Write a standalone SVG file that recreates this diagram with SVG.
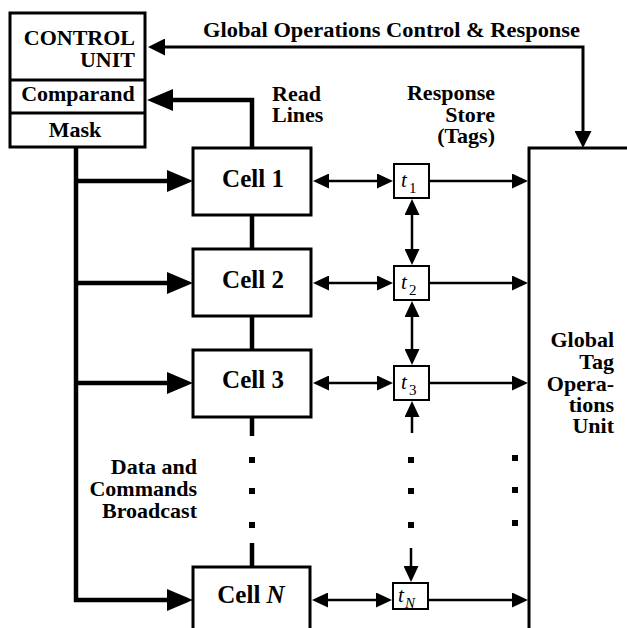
<svg xmlns="http://www.w3.org/2000/svg" width="627" height="628" viewBox="0 0 627 628">
  <defs>
    <style>
      text { font-family: 'Liberation Serif', 'Times New Roman', Tinos, 'DejaVu Serif', serif; fill: #000; }
      .lbl { font-weight: bold; font-size: 22px; }
      .cell-lbl { font-weight: bold; font-size: 25px; text-anchor: middle; }
      .tag-lbl { font-style: italic; font-size: 21px; }
      .tag-sub { font-size: 15px; }
      .box { fill: #fff; stroke: #000; stroke-width: 3; }
      .tbox { fill: #fff; stroke: #000; stroke-width: 2; }
      .bus { fill: none; stroke: #000; stroke-width: 4.5; }
      .ctl { fill: none; stroke: #000; stroke-width: 3; }
      .sig { fill: none; stroke: #000; stroke-width: 2.5; }
      .dot { fill: #000; }
    </style>
    <!-- large head for the broadcast bus and read lines -->
    <marker id="ahBus" markerUnits="userSpaceOnUse" viewBox="0 0 26 22" refX="1" refY="11" markerWidth="26" markerHeight="22" orient="auto-start-reverse">
      <path d="M0,0 L26,11 L0,22 Z" fill="#000"/>
    </marker>
    <!-- medium head for global control -->
    <marker id="ahCtl" markerUnits="userSpaceOnUse" viewBox="0 0 17 17" refX="1" refY="8.5" markerWidth="17" markerHeight="17" orient="auto-start-reverse">
      <path d="M0,0 L17,8.5 L0,17 Z" fill="#000"/>
    </marker>
    <!-- small head for tag signals -->
    <marker id="ahTag" markerUnits="userSpaceOnUse" viewBox="0 0 16 15" refX="1" refY="7.5" markerWidth="16" markerHeight="15" orient="auto-start-reverse">
      <path d="M0,0 L16,7.5 L0,15 Z" fill="#000"/>
    </marker>
  </defs>

  <rect width="627" height="628" fill="#fff"/>

  <!-- connectors -->
  <g id="connectors">
    <!-- global operations control & response -->
    <path class="ctl" d="M164,47 H583 V132" marker-start="url(#ahCtl)" marker-end="url(#ahCtl)"/>
    <!-- read lines back to comparand -->
    <path class="bus" d="M252,148 V100 H172" marker-end="url(#ahBus)"/>
    <!-- data and commands broadcast bus -->
    <path class="bus" d="M76,147 V600 H168" marker-end="url(#ahBus)"/>
    <path class="bus" d="M76,181 H168" marker-end="url(#ahBus)"/>
    <path class="bus" d="M76,283 H168" marker-end="url(#ahBus)"/>
    <path class="bus" d="M76,383 H168" marker-end="url(#ahBus)"/>
    <!-- cell chain -->
    <path class="bus" d="M252,215 V249"/>
    <path class="bus" d="M252,316 V350"/>
    <path class="bus" d="M252,417 V436"/>
    <path class="bus" d="M252,543 V567"/>
    <rect class="dot" x="249" y="457" width="6" height="6"/>
    <rect class="dot" x="249" y="488" width="6" height="6"/>
    <rect class="dot" x="249" y="522" width="6" height="6"/>
    <!-- cell <-> tag -->
    <path class="sig" d="M328,181 H378" marker-start="url(#ahTag)" marker-end="url(#ahTag)"/>
    <path class="sig" d="M328,283 H378" marker-start="url(#ahTag)" marker-end="url(#ahTag)"/>
    <path class="sig" d="M328,383 H378" marker-start="url(#ahTag)" marker-end="url(#ahTag)"/>
    <path class="sig" d="M327,600 H377" marker-start="url(#ahTag)" marker-end="url(#ahTag)"/>
    <!-- tag -> global tag unit -->
    <path class="sig" d="M430,181 H513" marker-end="url(#ahTag)"/>
    <path class="sig" d="M430,283 H513" marker-end="url(#ahTag)"/>
    <path class="sig" d="M430,383 H513" marker-end="url(#ahTag)"/>
    <path class="sig" d="M428,600 H513" marker-end="url(#ahTag)"/>
    <!-- tag chain -->
    <path class="sig" d="M412,214 V250" marker-start="url(#ahTag)" marker-end="url(#ahTag)"/>
    <path class="sig" d="M412,316 V350" marker-start="url(#ahTag)" marker-end="url(#ahTag)"/>
    <path class="sig" d="M412,433 V416" marker-end="url(#ahTag)"/>
    <path class="sig" d="M411,548 V567" marker-end="url(#ahTag)"/>
    <rect class="dot" x="408" y="457" width="6" height="6"/>
    <rect class="dot" x="408" y="488" width="6" height="6"/>
    <rect class="dot" x="408" y="522" width="6" height="6"/>
    <rect class="dot" x="512" y="455" width="6" height="6"/>
    <rect class="dot" x="512" y="487" width="6" height="6"/>
    <rect class="dot" x="512" y="520" width="6" height="6"/>
  </g>

  <!-- control unit -->
  <g id="control-unit">
    <rect class="box" x="10" y="13" width="135" height="134"/>
    <line x1="10" y1="80" x2="145" y2="80" stroke="#000" stroke-width="3"/>
    <line x1="10" y1="113" x2="145" y2="113" stroke="#000" stroke-width="3"/>
    <text class="lbl" x="135" y="45" text-anchor="end">CONTROL</text>
    <text class="lbl" x="135" y="67" text-anchor="end">UNIT</text>
    <text class="lbl" x="78" y="101" text-anchor="middle">Comparand</text>
    <text class="lbl" x="75" y="137" text-anchor="middle">Mask</text>
  </g>

  <!-- cells -->
  <g id="cell-1">
    <rect class="box" x="193" y="148" width="118" height="67"/>
    <text class="cell-lbl" x="253" y="187">Cell 1</text>
  </g>
  <g id="cell-2">
    <rect class="box" x="193" y="249" width="118" height="67"/>
    <text class="cell-lbl" x="253" y="288">Cell 2</text>
  </g>
  <g id="cell-3">
    <rect class="box" x="193" y="350" width="118" height="67"/>
    <text class="cell-lbl" x="253" y="388">Cell 3</text>
  </g>
  <g id="cell-n">
    <path d="M193,632 V567 H310 V632" fill="#fff" stroke="#000" stroke-width="3"/>
    <text class="cell-lbl" x="251" y="603">Cell <tspan font-style="italic">N</tspan></text>
  </g>

  <!-- response store tags -->
  <g id="tag-1">
    <rect class="tbox" x="394" y="164" width="35" height="34"/>
    <text class="tag-lbl" x="401" y="187">t</text>
    <text class="tag-sub" x="409" y="193">1</text>
  </g>
  <g id="tag-2">
    <rect class="tbox" x="394" y="266" width="35" height="34"/>
    <text class="tag-lbl" x="401" y="289">t</text>
    <text class="tag-sub" x="409" y="295">2</text>
  </g>
  <g id="tag-3">
    <rect class="tbox" x="394" y="366" width="35" height="34"/>
    <text class="tag-lbl" x="401" y="389">t</text>
    <text class="tag-sub" x="409" y="395">3</text>
  </g>
  <g id="tag-n">
    <rect class="tbox" x="393" y="583" width="35" height="26"/>
    <text class="tag-lbl" x="398" y="602">t</text>
    <text class="tag-sub" x="405" y="608" font-style="italic">N</text>
  </g>

  <!-- global tag operations unit -->
  <g id="global-tag-unit">
    <path d="M630,148 H529 V632" fill="none" stroke="#000" stroke-width="3"/>
    <text class="lbl" x="614" y="347" text-anchor="end">Global</text>
    <text class="lbl" x="614" y="369" text-anchor="end">Tag</text>
    <text class="lbl" x="614" y="391" text-anchor="end">Opera-</text>
    <text class="lbl" x="614" y="412" text-anchor="end">tions</text>
    <text class="lbl" x="614" y="433" text-anchor="end">Unit</text>
  </g>

  <!-- free labels -->
  <g id="labels">
    <text class="lbl" x="203" y="37" textLength="377" lengthAdjust="spacingAndGlyphs">Global Operations Control &amp; Response</text>
    <text class="lbl" x="272" y="101">Read</text>
    <text class="lbl" x="272" y="122">Lines</text>
    <text class="lbl" x="495" y="100" text-anchor="end">Response</text>
    <text class="lbl" x="495" y="122" text-anchor="end">Store</text>
    <text class="lbl" x="495" y="143" text-anchor="end">(Tags)</text>
    <text class="lbl" x="197" y="474" text-anchor="end">Data and</text>
    <text class="lbl" x="197" y="496" text-anchor="end">Commands</text>
    <text class="lbl" x="197" y="518" text-anchor="end">Broadcast</text>
  </g>
</svg>
